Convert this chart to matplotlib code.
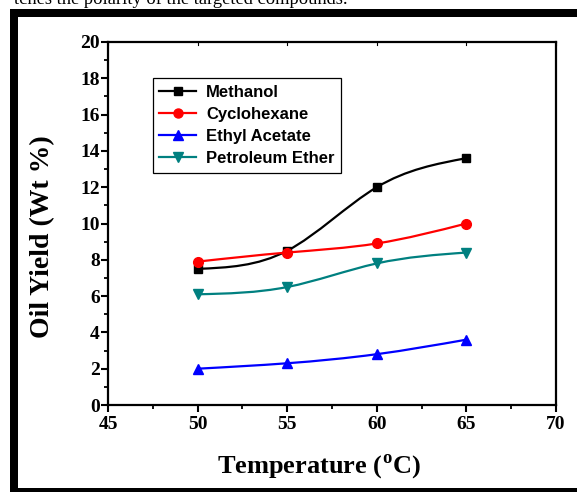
import matplotlib
matplotlib.use("Agg")
import matplotlib.pyplot as plt
import numpy as np
from matplotlib.path import Path
from matplotlib.patches import PathPatch, Rectangle
from matplotlib.lines import Line2D
from matplotlib.ticker import MultipleLocator

plt.rcParams["mathtext.fontset"] = "custom"
plt.rcParams["mathtext.rm"] = "Liberation Serif:bold"
plt.rcParams["mathtext.bf"] = "Liberation Serif:bold"

# data
temperature = [50, 55, 60, 65]
methanol = [7.5, 8.5, 12.0, 13.6]
cyclohexane = [7.9, 8.4, 8.9, 10.0]
ethyl_acetate = [2.0, 2.3, 2.8, 3.6]
petroleum_ether = [6.1, 6.5, 7.8, 8.4]

series_names = ["Methanol", "Cyclohexane", "Ethyl Acetate", "Petroleum Ether"]
series_vals = [methanol, cyclohexane, ethyl_acetate, petroleum_ether]
series_colors = ["#000000", "#FF0000", "#0000FF", "#008080"]
series_markers = ["s", "o", "^", "v"]
series_msize = [6.0, 7.0, 7.5, 7.5]

SERIF = "Liberation Serif"
SANS = "Liberation Sans"


def spline_path(x, y):
    """Natural cubic spline through the points, drawn as Bezier segments."""
    x = np.asarray(x, float)
    y = np.asarray(y, float)
    n = len(x)
    h = np.diff(x)
    A = np.zeros((n, n))
    r = np.zeros(n)
    A[0, 0] = A[-1, -1] = 1.0
    for i in range(1, n - 1):
        A[i, i - 1] = h[i - 1]
        A[i, i] = 2 * (h[i - 1] + h[i])
        A[i, i + 1] = h[i]
        r[i] = 6 * ((y[i + 1] - y[i]) / h[i] - (y[i] - y[i - 1]) / h[i - 1])
    M = np.linalg.solve(A, r)
    m = np.zeros(n)
    for i in range(n - 1):
        m[i] = (y[i + 1] - y[i]) / h[i] - h[i] * (2 * M[i] + M[i + 1]) / 6
    m[-1] = (y[-1] - y[-2]) / h[-1] + h[-1] * (M[-2] + 2 * M[-1]) / 6
    verts = [(x[0], y[0])]
    codes = [Path.MOVETO]
    for i in range(n - 1):
        verts += [(x[i] + h[i] / 3, y[i] + m[i] * h[i] / 3),
                  (x[i + 1] - h[i] / 3, y[i + 1] - m[i + 1] * h[i] / 3),
                  (x[i + 1], y[i + 1])]
        codes += [Path.CURVE4] * 3
    return Path(verts, codes)


W, H = 577, 492
fig = plt.figure(figsize=(W / 100, H / 100), dpi=100)

# thick page frame around the figure
for (x0, y0, w, h) in [(10, 9, 8, 500), (10, 9, 600, 8), (10, 488, 600, 10)]:
    fig.patches.append(Rectangle((x0 / W, 1 - (y0 + h) / H), w / W, h / H,
                                 transform=fig.transFigure, facecolor="black",
                                 edgecolor="none", zorder=0))

# clipped line of text from the page above
fig.text(14 / W, 1 - 4.5 / H, "tches the polarity of the targeted compounds.",
         fontsize=13.3, family=SERIF, va="baseline", ha="left")

ax = fig.add_axes([108 / W, (H - 405) / H, (556 - 108) / W, (405 - 42) / H])

for name, vals, c, mk, ms in zip(series_names, series_vals, series_colors,
                                 series_markers, series_msize):
    ax.add_patch(PathPatch(spline_path(temperature, vals), facecolor="none",
                           edgecolor=c, linewidth=1.6, zorder=3))
    ax.plot(temperature, vals, linestyle="none", marker=mk, markersize=ms,
            color=c, zorder=4)

ax.set_xlim(45, 70)
ax.set_ylim(0, 20)
ax.xaxis.set_major_locator(MultipleLocator(5))
ax.xaxis.set_minor_locator(MultipleLocator(2.5))
ax.yaxis.set_major_locator(MultipleLocator(2))
ax.yaxis.set_minor_locator(MultipleLocator(1))

for s in ax.spines.values():
    s.set_linewidth(1.6)
ax.tick_params(which="major", direction="out", length=5, width=1.5,
               top=False, right=False)
ax.tick_params(which="minor", direction="out", length=3, width=1.3,
               top=False, right=False)
ax.tick_params(axis="y", which="major", pad=1)
ax.tick_params(axis="x", which="major", pad=3)

for lab in ax.get_xticklabels() + ax.get_yticklabels():
    lab.set_family(SERIF)
    lab.set_fontweight("bold")
    lab.set_fontsize(14)

# small inward ticks along the top edge
for xv in range(45, 71, 5):
    ax.plot([xv, xv], [20, 19.85], color="black", linewidth=0.8, clip_on=False)

ax.set_xlabel(r"Temperature ($^\mathrm{o}$C)", family=SERIF, fontweight="bold",
              fontsize=19)
ax.xaxis.set_label_coords(0.47, -0.13)
ax.set_ylabel("Oil Yield (Wt %)", family=SERIF, fontweight="bold", fontsize=20)
ax.yaxis.set_label_coords(-0.118, 0.465)

handles = [Line2D([], [], color=c, marker=mk, markersize=ms - 0.5, linewidth=1.6)
           for c, mk, ms in zip(series_colors, series_markers, series_msize)]
leg = ax.legend(handles, series_names, loc="upper left",
                bbox_to_anchor=(0.1, 0.9), borderaxespad=0, frameon=True,
                fancybox=False, edgecolor="black", framealpha=1,
                handlelength=2.2, labelspacing=0.42, borderpad=0.4,
                handletextpad=0.6,
                prop={"family": SANS, "weight": "bold", "size": 12})
leg.get_frame().set_linewidth(0.9)

fig.savefig("out.png", dpi=100)
